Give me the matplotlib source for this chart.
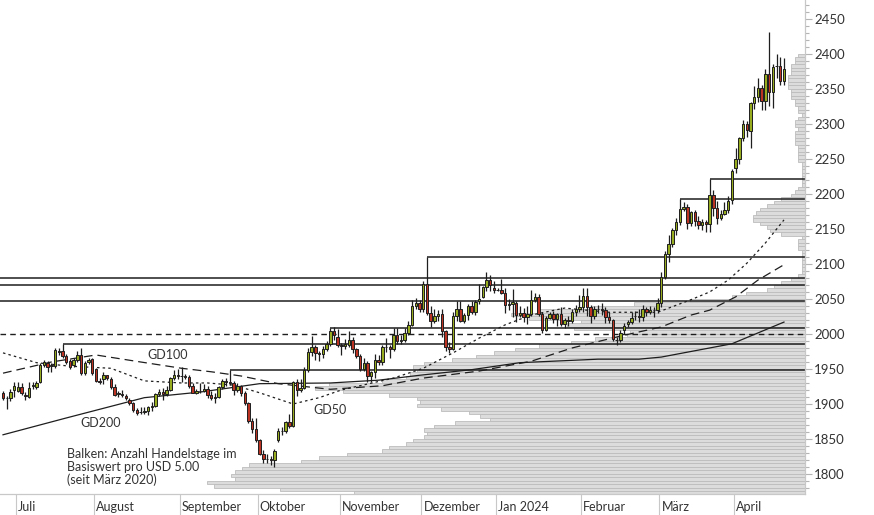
import numpy as np
import pandas as pd
import matplotlib
matplotlib.use('Agg')
import matplotlib.pyplot as plt
from matplotlib.transforms import blended_transform_factory
from matplotlib.ticker import MultipleLocator

plt.rcParams['font.family'] = ['Lato', 'DejaVu Sans']

# trading days shown (the feed has no candle on Christmas and Good Friday)
closed_days = ['2023-12-25', '2024-03-29']
dates = pd.bdate_range('2023-06-27', '2024-04-18')
dates = dates[~dates.isin(pd.to_datetime(closed_days))]

# daily candles, USD
opens = [1915, 1909, 1908, 1920, 1919, 1924, 1913, 1910, 1925, 1924,
         1931, 1956, 1959, 1954, 1954, 1974, 1976, 1969, 1961, 1955,
         1963, 1970, 1944, 1960, 1964, 1950, 1933, 1935, 1941, 1936,
         1924, 1914, 1914, 1912, 1906, 1901, 1891, 1889, 1889, 1890,
         1895, 1897, 1914, 1917, 1914, 1920, 1937, 1942, 1940, 1940,
         1938, 1926, 1916, 1919, 1919, 1922, 1913, 1908, 1910, 1924,
         1933, 1931, 1930, 1920, 1925, 1916, 1901, 1875, 1864, 1849,
         1828, 1822, 1821, 1820, 1848, 1862, 1861, 1874, 1868, 1932,
         1920, 1923, 1948, 1974, 1981, 1973, 1971, 1979, 1985, 2004,
         1995, 1984, 1983, 1984, 1992, 1978, 1969, 1950, 1958, 1940,
         1946, 1963, 1960, 1981, 1981, 1978, 1999, 1990, 1992, 2002,
         2013, 2040, 2044, 2036, 2071, 2030, 2019, 2025, 2028, 2004,
         1982, 1979, 2026, 2036, 2019, 2027, 2040, 2031, 2047, 2053,
         2067, 2077, 2066, 2063, 2063, 2059, 2041, 2043, 2044, 2027,
         2030, 2024, 2028, 2049, 2053, 2028, 2006, 2023, 2029, 2021,
         2029, 2014, 2020, 2018, 2032, 2036, 2039, 2054, 2039, 2025,
         2035, 2035, 2034, 2024, 2020, 1992, 1991, 2006, 2014, 2017,
         2025, 2026, 2024, 2035, 2031, 2034, 2034, 2044, 2082, 2114,
         2128, 2148, 2160, 2179, 2182, 2158, 2174, 2162, 2156, 2160,
         2157, 2198, 2180, 2166, 2171, 2177, 2191, 2237, 2250, 2280,
         2300, 2290, 2330, 2339, 2352, 2333, 2372, 2345, 2383, 2383,
         2361]
highs = [1918, 1911, 1922, 1931, 1931, 1930, 1917, 1931, 1932, 1933,
         1959, 1963, 1961, 1958, 1980, 1980, 1986, 1972, 1964, 1966,
         1976, 1980, 1961, 1966, 1966, 1951, 1937, 1945, 1942, 1938,
         1929, 1918, 1920, 1914, 1908, 1903, 1894, 1896, 1896, 1897,
         1903, 1916, 1922, 1923, 1925, 1938, 1948, 1950, 1953, 1943,
         1942, 1930, 1922, 1930, 1929, 1925, 1918, 1915, 1926, 1936,
         1937, 1948, 1933, 1930, 1927, 1918, 1903, 1880, 1880, 1850,
         1834, 1828, 1826, 1835, 1865, 1867, 1876, 1885, 1933, 1936,
         1935, 1953, 1980, 1997, 1984, 1976, 1983, 1990, 2009, 2010,
         2007, 1987, 1993, 2004, 1995, 1980, 1971, 1965, 1962, 1947,
         1971, 1970, 1984, 1994, 1984, 2008, 2008, 1998, 2008, 2018,
         2048, 2052, 2048, 2075, 2110, 2040, 2035, 2034, 2035, 2006,
         1988, 2032, 2047, 2047, 2030, 2043, 2047, 2049, 2071, 2069,
         2088, 2084, 2076, 2065, 2079, 2065, 2050, 2064, 2047, 2040,
         2037, 2040, 2063, 2058, 2057, 2032, 2025, 2031, 2033, 2030,
         2038, 2023, 2026, 2036, 2042, 2056, 2065, 2066, 2041, 2040,
         2041, 2044, 2038, 2032, 2022, 1996, 2006, 2016, 2020, 2031,
         2033, 2035, 2041, 2039, 2040, 2039, 2052, 2088, 2119, 2141,
         2152, 2165, 2193, 2189, 2185, 2175, 2177, 2168, 2164, 2163,
         2221, 2205, 2190, 2177, 2189, 2197, 2236, 2266, 2281, 2305,
         2304, 2331, 2354, 2365, 2355, 2378, 2431, 2385, 2400, 2396,
         2394]
lows = [1905, 1893, 1904, 1910, 1917, 1913, 1905, 1909, 1922, 1922,
        1930, 1953, 1946, 1946, 1952, 1970, 1966, 1957, 1950, 1953,
        1960, 1941, 1942, 1957, 1942, 1932, 1928, 1929, 1934, 1922,
        1912, 1910, 1910, 1906, 1899, 1888, 1884, 1885, 1885, 1884,
        1890, 1895, 1911, 1905, 1912, 1919, 1934, 1936, 1931, 1935,
        1923, 1915, 1914, 1915, 1917, 1908, 1906, 1901, 1908, 1922,
        1925, 1927, 1913, 1917, 1912, 1898, 1873, 1858, 1846, 1827,
        1816, 1815, 1813, 1810, 1846, 1855, 1859, 1866, 1867, 1912,
        1917, 1922, 1945, 1969, 1963, 1962, 1966, 1976, 1983, 1992,
        1981, 1970, 1978, 1981, 1973, 1965, 1947, 1947, 1932, 1931,
        1937, 1956, 1956, 1974, 1966, 1975, 1986, 1985, 1989, 1999,
        2011, 2035, 2031, 2032, 2027, 2010, 2016, 2018, 1995, 1975,
        1973, 1977, 2019, 2017, 2016, 2020, 2028, 2027, 2043, 2051,
        2062, 2062, 2058, 2061, 2057, 2030, 2034, 2024, 2017, 2024,
        2017, 2014, 2026, 2046, 2026, 2001, 2004, 2021, 2016, 2011,
        2012, 2009, 2012, 2016, 2026, 2031, 2032, 2025, 2015, 2021,
        2030, 2027, 2015, 2016, 1990, 1984, 1989, 2000, 2010, 2014,
        2020, 2017, 2019, 2025, 2028, 2024, 2030, 2038, 2078, 2103,
        2124, 2141, 2155, 2176, 2150, 2154, 2154, 2150, 2148, 2146,
        2146, 2168, 2157, 2163, 2170, 2173, 2186, 2230, 2243, 2276,
        2281, 2266, 2322, 2331, 2320, 2320, 2326, 2323, 2365, 2355,
        2356]
closes = [1909, 1908, 1917, 1926, 1924, 1916, 1911, 1923, 1927, 1930,
          1956, 1960, 1953, 1956, 1977, 1975, 1969, 1960, 1953, 1963,
          1970, 1944, 1958, 1963, 1944, 1933, 1932, 1942, 1937, 1924,
          1913, 1915, 1913, 1909, 1901, 1891, 1887, 1889, 1890, 1895,
          1897, 1914, 1917, 1914, 1920, 1937, 1942, 1940, 1940, 1938,
          1926, 1916, 1919, 1919, 1922, 1913, 1908, 1910, 1924, 1933,
          1931, 1930, 1920, 1925, 1916, 1901, 1875, 1864, 1849, 1828,
          1822, 1821, 1820, 1833, 1862, 1861, 1874, 1868, 1932, 1920,
          1923, 1948, 1974, 1981, 1973, 1971, 1979, 1985, 2004, 1999,
          1984, 1983, 1985, 1992, 1978, 1969, 1950, 1958, 1940, 1946,
          1963, 1960, 1981, 1981, 1978, 1999, 1990, 1992, 2002, 2013,
          2040, 2044, 2036, 2071, 2030, 2019, 2025, 2028, 2004, 1982,
          1979, 2026, 2036, 2019, 2027, 2040, 2031, 2045, 2050, 2067,
          2077, 2070, 2063, 2063, 2059, 2041, 2043, 2045, 2027, 2030,
          2024, 2029, 2049, 2053, 2028, 2006, 2023, 2029, 2021, 2029,
          2014, 2020, 2018, 2032, 2036, 2039, 2054, 2039, 2025, 2035,
          2035, 2034, 2024, 2020, 1993, 1991, 2001, 2011, 2017, 2023,
          2026, 2024, 2035, 2031, 2034, 2034, 2044, 2082, 2114, 2128,
          2148, 2160, 2179, 2182, 2158, 2174, 2162, 2156, 2160, 2157,
          2198, 2180, 2166, 2171, 2177, 2190, 2233, 2250, 2280, 2300,
          2291, 2330, 2339, 2352, 2333, 2372, 2345, 2381, 2383, 2361,
          2379]

# moving averages at sample days (candle index, USD)
gd50_idx = [0, 9, 18, 29, 38, 48, 55, 62, 69, 78, 85, 91, 105, 113, 121, 128,
            135, 142, 151, 163, 176, 185, 190, 195, 200, 205, 210]
gd50_val = [1973, 1959, 1954, 1951, 1933, 1930, 1930, 1927, 1916, 1900, 1909,
            1920, 1937, 1951, 1973, 1994, 2013, 2027, 2037, 2031, 2031, 2049,
            2060, 2077, 2101, 2130, 2163]
gd100_idx = [0, 13, 25, 37, 48, 56, 64, 74, 88, 102, 113, 128, 142, 153, 166,
             177, 185, 190, 197, 203, 210]
gd100_val = [1944, 1960, 1970, 1960, 1951, 1946, 1940, 1929, 1921, 1926, 1937,
             1947, 1961, 1980, 1997, 2010, 2027, 2034, 2053, 2077, 2099]
gd200_idx = [0, 17, 38, 53, 69, 88, 101, 112, 126, 139, 160, 171, 177, 187,
             196, 210]
gd200_val = [1856, 1880, 1909, 1917, 1929, 1930, 1934, 1941, 1949, 1959, 1964,
             1964, 1967, 1977, 1986, 2017]

# horizontal lines: older levels across the chart, and highs drawn from their day
level_lines = [2080, 2070, 2047]
round_level = 2000
high_line_days = [16, 61, 88, 114, 182, 190]

# bar profile: number of trading days per USD 5.00 since March 2020
profile_low = list(range(1770, 2400, 5))
profile_days = [129, 150, 169, 171, 163, 164, 163, 161, 159, 144,
                139, 131, 121, 119, 114, 112, 109, 108, 109, 106,
                100, 90, 93, 96, 104, 111, 110, 111, 119, 132,
                140, 136, 121, 114, 113, 111, 112, 109, 101, 94,
                89, 83, 76, 67, 60, 51, 50, 66, 68, 64,
                79, 84, 76, 61, 49, 33, 21, 17, 11, 9,
                7, 4, 2, 1, 1, 1, 1, 1, 1, 1,
                2, 2, 2, 1, 7, 10, 11, 13, 15, 15,
                14, 13, 11, 9, 7, 4, 3, 2, 1, 1,
                1, 1, 1, 1, 1, 2, 2, 2, 2, 2,
                3, 3, 3, 3, 2, 3, 3, 2, 1, 2,
                2, 3, 3, 4, 4, 4, 5, 5, 5, 5,
                4, 4, 4, 3, 3, 2]

month_names = ['Juli', 'August', 'September', 'Oktober', 'November',
               'Dezember', 'Jan 2024', 'Februar', 'März', 'April']

opens = np.array(opens, float)
highs = np.array(highs, float)
lows = np.array(lows, float)
closes = np.array(closes, float)
x = np.arange(len(dates))

fig = plt.figure(figsize=(8.74, 5.15), dpi=100)
ax = fig.add_axes([0, 21 / 515, 805 / 874, 494 / 515])
x_min, x_max = -0.81, 215.65
y_min, y_max = 1771.4, 2477.1

# profile on a twin axis, counted from the right edge
ax2 = ax.twiny()
ax2.barh(np.array(profile_low) + 2.5, profile_days, height=5, left=0,
         color='#dcdcdc', edgecolor='#bcbcbc', linewidth=0.6)
ax2.set_xlim(805 / 3.5, 0)
ax2.axis('off')
ax.set_zorder(ax2.get_zorder() + 1)
ax.patch.set_visible(False)

line_col = '#1e1e1e'
for lvl in level_lines:
    ax.hlines(lvl, x_min, x_max, color=line_col, lw=1.1, zorder=2)
ax.hlines(round_level, x_min, x_max, color=line_col, lw=1.0,
          linestyles=(0, (4, 3)), zorder=2)
for d in high_line_days:
    ax.hlines(highs[d], d, x_max, color=line_col, lw=1.1, zorder=2)

# moving averages
ax.plot(gd50_idx, gd50_val, color=line_col, lw=0.9, ls=(0, (2, 2.5)), zorder=3)
ax.plot(gd100_idx, gd100_val, color=line_col, lw=0.9, ls=(0, (7, 4)), zorder=3)
ax.plot(gd200_idx, gd200_val, color=line_col, lw=0.9, zorder=3)

# candles
up = closes >= opens
colors = np.where(up, '#97ac1f', '#bb3322')
ax.vlines(x, lows, highs, color=line_col, lw=0.9, zorder=4)
ax.bar(x, np.abs(closes - opens), bottom=np.minimum(opens, closes), width=0.66,
       color=colors, edgecolor=line_col, linewidth=0.7, zorder=5)

txt_col = '#333333'
ax.text(38.7, 1970, 'GD100', fontsize=9, color=txt_col, va='center')
ax.text(20.7, 1873, 'GD200', fontsize=9, color=txt_col, va='center')
ax.text(83.4, 1891, 'GD50', fontsize=9, color=txt_col, va='center')
ax.text(17.2, 1837, 'Balken: Anzahl Handelstage im\nBasiswert pro USD 5.00\n(seit März 2020)',
        fontsize=9, color=txt_col, va='top', ha='left', linespacing=1.05)

ax.set_xlim(x_min, x_max)
ax.set_ylim(y_min, y_max)

# month separators below the axis, label right of each line
months = dates.to_period('M')
starts = [i for i in range(1, len(dates)) if months[i] != months[i - 1]]
ax.set_xticks([s - 0.5 for s in starts])
ax.set_xticklabels([])
ax.tick_params(axis='x', length=15, width=0.8, color='#c8c8c8', direction='out')
trans = blended_transform_factory(ax.transData, ax.transAxes)
for s, name in zip(starts, month_names):
    ax.text(s + 0.05, -0.027, name, transform=trans, fontsize=9, color=txt_col,
            ha='left', va='center')

ax.yaxis.tick_right()
ax.yaxis.set_major_locator(MultipleLocator(50))
ax.yaxis.set_minor_locator(MultipleLocator(10))
ax.tick_params(axis='y', which='major', length=5, width=0.8, color='#b4b4b4',
               labelsize=9.5, labelcolor=txt_col, pad=1.5)
ax.tick_params(axis='y', which='minor', length=3, width=0.8, color='#b4b4b4')
for side in ['top', 'left']:
    ax.spines[side].set_visible(False)
for side in ['right', 'bottom']:
    ax.spines[side].set_color('#c8c8c8')
    ax.spines[side].set_linewidth(0.9)

fig.savefig('out.png', dpi=100)
